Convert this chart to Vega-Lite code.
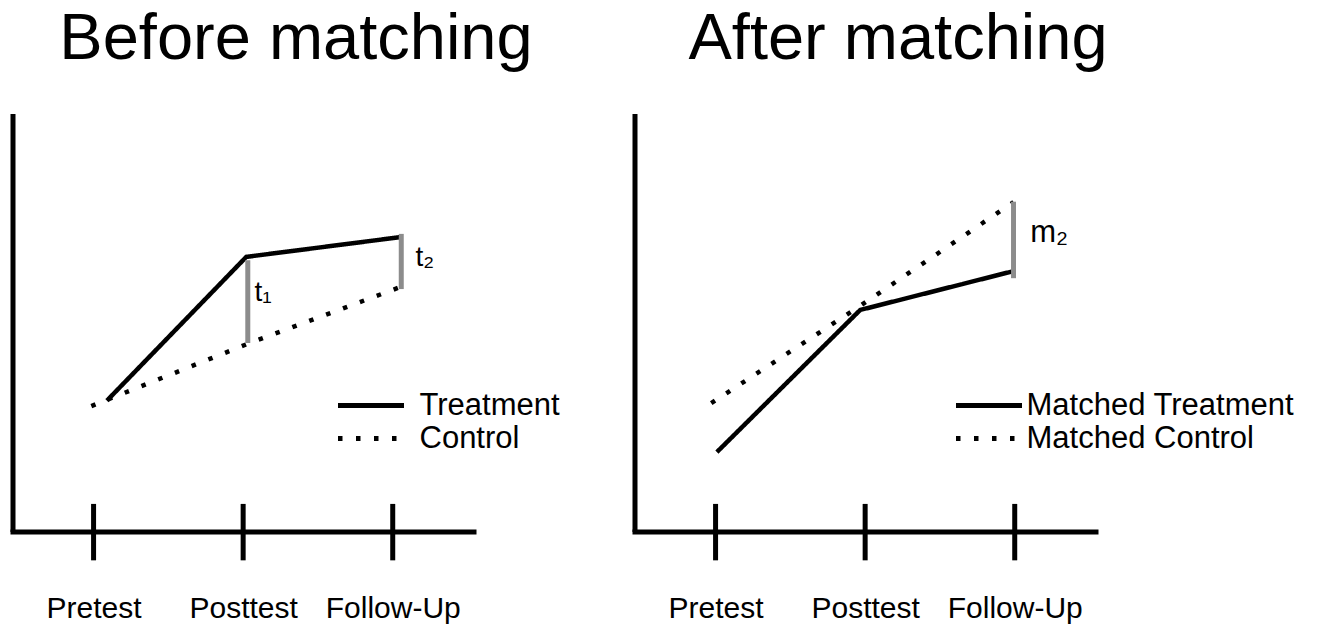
{
  "$schema": "https://vega.github.io/schema/vega-lite/v6.json",
  "background": "white",
  "padding": {"left": 12.5, "top": 6.5, "right": 8, "bottom": 5},
  "bounds": "flush",
  "spacing": 161,
  "config": {"view": {"stroke": null}, "font": "Liberation Sans"},
  "resolve": {"scale": {"strokeDash": "independent"}, "legend": {"strokeDash": "independent"}},
  "hconcat": [
    {
      "width": 461,
      "height": 418,
      "title": {"text": "Before matching", "fontSize": 65, "fontWeight": "normal", "font": "Liberation Sans", "color": "black", "anchor": "middle", "frame": "group", "baseline": "alphabetic", "offset": -10, "dx": 53},
      "encoding": {
        "x": {"field": "x", "type": "quantitative", "scale": {"domain": [0.458, 3.54], "nice": false, "zero": false},
          "axis": {"title": null, "values": [1, 2, 3], "labelExpr": "datum.value == 1 ? 'Pretest' : datum.value == 2 ? 'Posttest' : 'Follow-Up'", "domainColor": "black", "domainWidth": 5, "domainCap": "square", "ticks": false, "tickSize": 0, "grid": false, "labelFontSize": 30, "labelFont": "Liberation Sans", "labelColor": "black", "labelPadding": 86, "labelBaseline": "alphabetic", "labelFlush": false, "labelOverlap": false}},
        "y": {"field": "y", "type": "quantitative", "scale": {"domain": [0, 100], "nice": false, "zero": false},
          "axis": {"title": null, "domainColor": "black", "domainWidth": 5, "ticks": false, "labels": false, "grid": false}}
      },
      "layer": [
        {
          "data": {"values": [
            {"group": "Treatment", "x": 1.089, "y": 31.3},
            {"group": "Treatment", "x": 2.021, "y": 65.7},
            {"group": "Treatment", "x": 3.045, "y": 70.4},
            {"group": "Control", "x": 0.985, "y": 30.0},
            {"group": "Control", "x": 2.03, "y": 44.9},
            {"group": "Control", "x": 3.052, "y": 58.5}
          ]},
          "mark": {"type": "line", "color": "black", "strokeWidth": 4.5, "strokeCap": "butt"},
          "encoding": {
            "strokeDash": {"field": "group", "type": "nominal",
              "scale": {"domain": ["Treatment", "Control"], "range": [[1, 0], [4.5, 13.5]]},
              "legend": {"title": null, "orient": "none", "legendX": 341, "legendY": 274.5, "labelFontSize": 31, "labelFont": "Liberation Sans", "labelColor": "black", "labelOffset": 31, "labelLimit": 400, "symbolSize": 900, "symbolStrokeWidth": 5, "symbolStrokeColor": "black", "symbolType": "M-2.2,0H2.2", "rowPadding": 0, "padding": 0}}
          }
        },
        {
          "data": {"values": [
            {"gap": "t1", "x": 2.031, "y": 64.9, "y2": 45.1},
            {"gap": "t2", "x": 3.057, "y": 71.2, "y2": 58.0}
          ]},
          "mark": {"type": "rule", "color": "#8c8c8c", "strokeWidth": 5},
          "encoding": {"y2": {"field": "y2"}}
        },
        {
          "data": {"values": [
            {"x": 1, "y": 6.6, "y2": -6.9},
            {"x": 2, "y": 6.6, "y2": -6.9},
            {"x": 3, "y": 6.6, "y2": -6.9}
          ]},
          "mark": {"type": "rule", "color": "black", "strokeWidth": 5},
          "encoding": {"y2": {"field": "y2"}}
        },
        {
          "data": {"values": [
            {"label": "t₁", "x": 2.076, "y": 55.2},
            {"label": "t₂", "x": 3.152, "y": 63.4}
          ]},
          "mark": {"type": "text", "align": "left", "baseline": "alphabetic", "fontSize": 28, "font": "Liberation Sans", "color": "black"},
          "encoding": {"text": {"field": "label"}}
        }
      ]
    },
    {
      "width": 461,
      "height": 418,
      "title": {"text": "After matching", "fontSize": 65, "fontWeight": "normal", "font": "Liberation Sans", "color": "black", "anchor": "middle", "frame": "group", "baseline": "alphabetic", "offset": -10, "dx": 33},
      "encoding": {
        "x": {"field": "x", "type": "quantitative", "scale": {"domain": [0.458, 3.54], "nice": false, "zero": false},
          "axis": {"title": null, "values": [1, 2, 3], "labelExpr": "datum.value == 1 ? 'Pretest' : datum.value == 2 ? 'Posttest' : 'Follow-Up'", "domainColor": "black", "domainWidth": 5, "domainCap": "square", "ticks": false, "tickSize": 0, "grid": false, "labelFontSize": 30, "labelFont": "Liberation Sans", "labelColor": "black", "labelPadding": 86, "labelBaseline": "alphabetic", "labelFlush": false, "labelOverlap": false}},
        "y": {"field": "y", "type": "quantitative", "scale": {"domain": [0, 100], "nice": false, "zero": false},
          "axis": {"title": null, "domainColor": "black", "domainWidth": 5, "ticks": false, "labels": false, "grid": false}}
      },
      "layer": [
        {
          "data": {"values": [
            {"group": "Matched Treatment", "x": 1.009, "y": 19.0},
            {"group": "Matched Treatment", "x": 1.967, "y": 53.0},
            {"group": "Matched Treatment", "x": 2.992, "y": 62.3},
            {"group": "Matched Control", "x": 0.971, "y": 30.7},
            {"group": "Matched Control", "x": 1.976, "y": 54.2},
            {"group": "Matched Control", "x": 2.992, "y": 78.8}
          ]},
          "mark": {"type": "line", "color": "black", "strokeWidth": 4.5, "strokeCap": "butt"},
          "encoding": {
            "strokeDash": {"field": "group", "type": "nominal",
              "scale": {"domain": ["Matched Treatment", "Matched Control"], "range": [[1, 0], [4.5, 13.5]]},
              "legend": {"title": null, "orient": "none", "legendX": 337, "legendY": 274.5, "labelFontSize": 31, "labelFont": "Liberation Sans", "labelColor": "black", "labelOffset": 20, "labelLimit": 400, "symbolSize": 900, "symbolStrokeWidth": 5, "symbolStrokeColor": "black", "symbolType": "M-2.2,0H2.2", "rowPadding": 0, "padding": 0}}
          }
        },
        {
          "data": {"values": [
            {"gap": "m2", "x": 2.992, "y": 78.9, "y2": 60.6}
          ]},
          "mark": {"type": "rule", "color": "#8c8c8c", "strokeWidth": 5},
          "encoding": {"y2": {"field": "y2"}}
        },
        {
          "data": {"values": [
            {"x": 1, "y": 6.6, "y2": -6.9},
            {"x": 2, "y": 6.6, "y2": -6.9},
            {"x": 3, "y": 6.6, "y2": -6.9}
          ]},
          "mark": {"type": "rule", "color": "black", "strokeWidth": 5},
          "encoding": {"y2": {"field": "y2"}}
        },
        {
          "data": {"values": [
            {"label": "m₂", "x": 3.104, "y": 69.2}
          ]},
          "mark": {"type": "text", "align": "left", "baseline": "alphabetic", "fontSize": 31, "font": "Liberation Sans", "color": "black"},
          "encoding": {"text": {"field": "label"}}
        }
      ]
    }
  ]
}
